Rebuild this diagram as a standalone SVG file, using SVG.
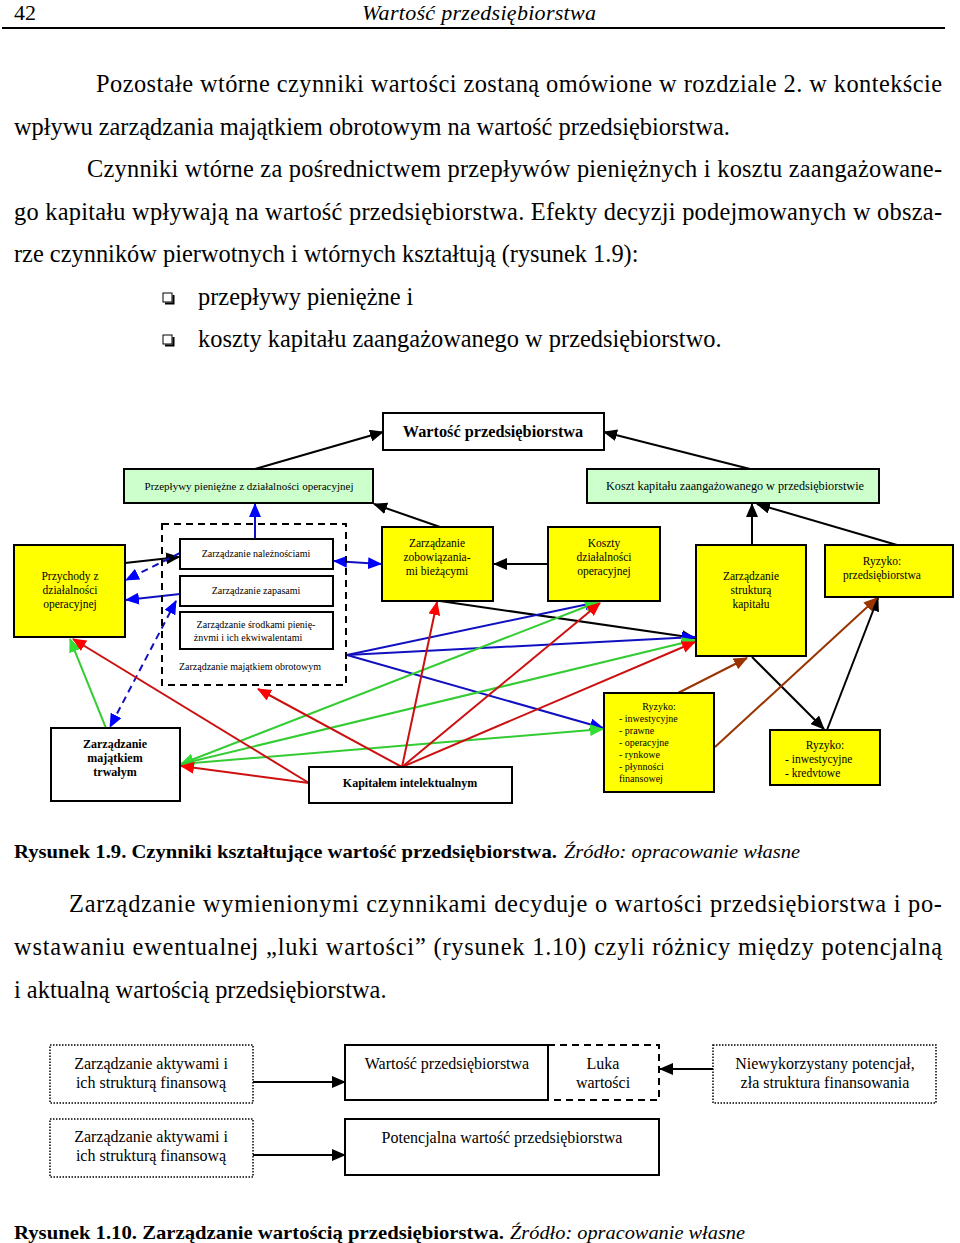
<svg xmlns="http://www.w3.org/2000/svg" width="960" height="1243" viewBox="0 0 960 1243">
<style>
.body{font-family:"Liberation Serif","Times New Roman",serif;font-size:24.4px;fill:#000}
.hdr{font-family:"Liberation Serif","Times New Roman",serif;font-size:22px;fill:#000}
.n{font-family:"Liberation Serif","Times New Roman",serif;font-size:11.5px;fill:#000;text-anchor:middle}
.ns{font-family:"Liberation Serif","Times New Roman",serif;font-size:10px;fill:#000;text-anchor:middle}
.st{text-anchor:start}
.nb{font-family:"Liberation Serif","Times New Roman",serif;font-size:12px;font-weight:bold;fill:#000;text-anchor:middle}
.f10{font-family:"Liberation Serif","Times New Roman",serif;font-size:16px;fill:#000;text-anchor:middle}
.cap{font-family:"Liberation Serif","Times New Roman",serif;font-size:19px;font-weight:bold;fill:#000}
.capi{font-family:"Liberation Serif","Times New Roman",serif;font-size:19px;font-style:italic;fill:#000}
.box{stroke:#000;stroke-width:2;fill:#fff}
.yel{stroke:#000;stroke-width:2;fill:#ffff00}
.grn{stroke:#000;stroke-width:2;fill:#ccffcc}
.dash{stroke:#000;stroke-width:2;fill:none;stroke-dasharray:7,5}
.dot{stroke:#000;stroke-width:1.5;fill:#fff;stroke-dasharray:1.5,1.5}
.k{stroke:#000;stroke-width:2;fill:none}
.b{stroke:#1010c0;stroke-width:2;fill:none}
.bd{stroke:#1010c0;stroke-width:2;fill:none;stroke-dasharray:7,5}
.g{stroke:#33cc33;stroke-width:2;fill:none}
.r{stroke:#cc1010;stroke-width:2;fill:none}
.br{stroke:#993300;stroke-width:2;fill:none}
</style>
<defs>
<marker id="ak" markerUnits="userSpaceOnUse" markerWidth="14" markerHeight="12" refX="13" refY="6" orient="auto-start-reverse"><path d="M0,0 L14,6 L0,12 z" fill="#000"/></marker>
<marker id="ab" markerUnits="userSpaceOnUse" markerWidth="14" markerHeight="12" refX="13" refY="6" orient="auto-start-reverse"><path d="M0,0 L14,6 L0,12 z" fill="#0000ff"/></marker>
<marker id="ag" markerUnits="userSpaceOnUse" markerWidth="14" markerHeight="12" refX="13" refY="6" orient="auto-start-reverse"><path d="M0,0 L14,6 L0,12 z" fill="#33dd33"/></marker>
<marker id="ar" markerUnits="userSpaceOnUse" markerWidth="14" markerHeight="12" refX="13" refY="6" orient="auto-start-reverse"><path d="M0,0 L14,6 L0,12 z" fill="#ff0000"/></marker>
<marker id="abr" markerUnits="userSpaceOnUse" markerWidth="14" markerHeight="12" refX="13" refY="6" orient="auto-start-reverse"><path d="M0,0 L14,6 L0,12 z" fill="#993300"/></marker>
</defs>
<rect width="960" height="1243" fill="#fff"/>

<!-- page header -->
<g id="header">
<text class="hdr" x="14" y="20">42</text>
<text class="hdr" x="362" y="20" font-style="italic" textLength="234">Wartość przedsiębiorstwa</text>
<line x1="2" y1="28" x2="945" y2="28" stroke="#000" stroke-width="2"/>
</g>

<!-- body text -->
<g id="text-top">
<text class="body" x="96" y="92" textLength="846" lengthAdjust="spacing">Pozostałe wtórne czynniki wartości zostaną omówione w rozdziale 2. w kontekście</text>
<text class="body" x="14" y="135">wpływu zarządzania majątkiem obrotowym na wartość przedsiębiorstwa.</text>
<text class="body" x="87" y="177" textLength="855" lengthAdjust="spacing">Czynniki wtórne za pośrednictwem przepływów pieniężnych i kosztu zaangażowane-</text>
<text class="body" x="14" y="220" textLength="928" lengthAdjust="spacing">go kapitału wpływają na wartość przedsiębiorstwa. Efekty decyzji podejmowanych w obsza-</text>
<text class="body" x="14" y="262">rze czynników pierwotnych i wtórnych kształtują (rysunek 1.9):</text>
<rect x="163" y="293" width="9" height="9" fill="#fff" stroke="#000" stroke-width="1"/>
<path d="M165,303.5 H173.5 V295" fill="none" stroke="#000" stroke-width="2"/>
<text class="body" x="198" y="305">przepływy pieniężne i</text>
<rect x="163" y="335" width="9" height="9" fill="#fff" stroke="#000" stroke-width="1"/>
<path d="M165,345.5 H173.5 V337" fill="none" stroke="#000" stroke-width="2"/>
<text class="body" x="198" y="347">koszty kapitału zaangażowanego w przedsiębiorstwo.</text>
</g>

<!-- Figure 1.9 connectors -->
<g id="connectors-1-9">
<line class="k" x1="255" y1="469" x2="383" y2="432" marker-end="url(#ak)"/>
<line class="k" x1="750" y1="469" x2="604" y2="432" marker-end="url(#ak)"/>
<line class="k" x1="440" y1="527" x2="374" y2="504" marker-end="url(#ak)"/>
<line class="k" x1="752" y1="545" x2="752" y2="504" marker-end="url(#ak)"/>
<line class="k" x1="897" y1="545" x2="757" y2="504" marker-end="url(#ak)"/>
<line class="k" x1="548" y1="564" x2="494" y2="564" marker-end="url(#ak)"/>
<line class="k" x1="125" y1="563" x2="179" y2="557" marker-end="url(#ak)"/>
<line class="k" x1="440" y1="601" x2="695" y2="638" marker-end="url(#ak)"/>
<line class="k" x1="752" y1="657" x2="824" y2="729" marker-end="url(#ak)"/>
<line class="k" x1="827" y1="730" x2="878" y2="598" marker-end="url(#ak)"/>

<line class="b" x1="255" y1="539" x2="255" y2="504" marker-end="url(#ab)"/>
<line class="b" x1="334" y1="561" x2="381" y2="564" marker-start="url(#ab)" marker-end="url(#ab)"/>
<line class="b" x1="180" y1="594" x2="126" y2="600" marker-end="url(#ab)"/>
<line class="b" x1="347" y1="655" x2="598" y2="602" marker-end="url(#ab)"/>
<line class="b" x1="347" y1="655" x2="695" y2="637" marker-end="url(#ab)"/>
<line class="b" x1="347" y1="655" x2="603" y2="728" marker-end="url(#ab)"/>
<line class="bd" x1="180" y1="553" x2="126" y2="580" marker-end="url(#ab)"/>
<line class="bd" x1="176" y1="601" x2="110" y2="727" marker-start="url(#ab)" marker-end="url(#ab)"/>

<line class="g" x1="106" y1="728" x2="70" y2="639" marker-end="url(#ag)"/>
<line class="g" x1="181" y1="764" x2="598" y2="602" marker-start="url(#ag)" marker-end="url(#ag)"/>
<line class="g" x1="181" y1="764" x2="695" y2="640" marker-end="url(#ag)"/>
<line class="g" x1="181" y1="764" x2="603" y2="729" marker-end="url(#ag)"/>

<line class="r" x1="309" y1="783" x2="73" y2="639" marker-end="url(#ar)"/>
<line class="r" x1="309" y1="783" x2="181" y2="766" marker-end="url(#ar)"/>
<line class="r" x1="402" y1="767" x2="258" y2="689" marker-end="url(#ar)"/>
<line class="r" x1="402" y1="767" x2="437" y2="602" marker-end="url(#ar)"/>
<line class="r" x1="402" y1="767" x2="600" y2="603" marker-end="url(#ar)"/>
<line class="r" x1="402" y1="767" x2="695" y2="642" marker-end="url(#ar)"/>

<line class="br" x1="678" y1="693" x2="747" y2="658" marker-end="url(#abr)"/>
<line class="br" x1="715" y1="747" x2="877" y2="598" marker-end="url(#abr)"/>
</g>

<!-- Figure 1.9 nodes -->
<g id="n-wartosc">
<rect class="box" x="383" y="413" width="221" height="37"/>
<text x="493" y="437" font-family="Liberation Serif, Times New Roman, serif" font-size="16.3" font-weight="bold" text-anchor="middle">Wartość przedsiębiorstwa</text>
</g>
<g id="n-przeplywy">
<rect class="grn" x="124" y="469" width="249" height="34"/>
<text class="n" x="249" y="490" style="font-size:11px">Przepływy pieniężne z działalności operacyjnej</text>
</g>
<g id="n-koszt-kapitalu">
<rect class="grn" x="587" y="469" width="292" height="34"/>
<text class="n" x="735" y="490" style="font-size:12.2px">Koszt kapitału zaangażowanego w przedsiębiorstwie</text>
</g>
<g id="n-przychody">
<rect class="yel" x="14" y="545" width="111" height="92"/>
<text class="n" x="70" y="580">Przychody z</text>
<text class="n" x="70" y="594">działalności</text>
<text class="n" x="70" y="608">operacyjnej</text>
</g>
<g id="n-majatek-obrotowy">
<rect class="dash" x="162" y="524" width="184" height="161"/>
<text class="ns" x="250" y="670">Zarządzanie majątkiem obrotowym</text>
</g>
<g id="n-naleznosci">
<rect class="box" x="180" y="539" width="153" height="30"/>
<text class="ns" x="256" y="557">Zarządzanie należnościami</text>
</g>
<g id="n-zapasy">
<rect class="box" x="180" y="576" width="153" height="30"/>
<text class="ns" x="256" y="594">Zarządzanie zapasami</text>
</g>
<g id="n-srodki">
<rect class="box" x="180" y="612" width="153" height="37"/>
<text class="ns" x="256" y="628">Zarządzanie środkami pienię-</text>
<text class="ns" x="248" y="641">żnvmi i ich ekwiwalentami</text>
</g>
<g id="n-zobowiazania">
<rect class="yel" x="382" y="527" width="111" height="74"/>
<text class="n" x="437" y="547">Zarządzanie</text>
<text class="n" x="437" y="561">zobowiązania-</text>
<text class="n" x="437" y="575">mi bieżącymi</text>
</g>
<g id="n-koszty">
<rect class="yel" x="548" y="527" width="112" height="74"/>
<text class="n" x="604" y="547">Koszty</text>
<text class="n" x="604" y="561">działalności</text>
<text class="n" x="604" y="575">operacyjnej</text>
</g>
<g id="n-struktura">
<rect class="yel" x="696" y="545" width="110" height="111"/>
<text class="n" x="751" y="580">Zarządzanie</text>
<text class="n" x="751" y="594">strukturą</text>
<text class="n" x="751" y="608">kapitału</text>
</g>
<g id="n-ryzyko-przeds">
<rect class="yel" x="825" y="545" width="128" height="52"/>
<text class="n" x="882" y="565">Ryzyko:</text>
<text class="n" x="882" y="579">przedsiębiorstwa</text>
</g>
<g id="n-majatek-trwaly">
<rect class="box" x="51" y="728" width="129" height="73"/>
<text class="nb" x="115" y="748">Zarządzanie</text>
<text class="nb" x="115" y="762">majątkiem</text>
<text class="nb" x="115" y="776">trwałym</text>
</g>
<g id="n-kapital-intelektualny">
<rect class="box" x="309" y="767" width="203" height="36"/>
<text class="nb" x="410" y="787">Kapitałem intelektualnym</text>
</g>
<g id="n-ryzyko-lista">
<rect class="yel" x="604" y="693" width="110" height="99"/>
<text class="ns" x="659" y="710">Ryzyko:</text>
<text class="ns st" x="619" y="722">- inwestycyjne</text>
<text class="ns st" x="619" y="734">- prawne</text>
<text class="ns st" x="619" y="746">- operacyjne</text>
<text class="ns st" x="619" y="758">- rynkowe</text>
<text class="ns st" x="619" y="770">- płynności</text>
<text class="ns st" x="619" y="782">finansowej</text>
</g>
<g id="n-ryzyko-kredytowe">
<rect class="yel" x="770" y="730" width="110" height="55"/>
<text class="n" x="825" y="749">Ryzyko:</text>
<text class="n st" x="785" y="763">- inwestycyjne</text>
<text class="n st" x="785" y="777">- kredvtowe</text>
</g>

<!-- caption 1.9 -->
<g id="caption-1-9">
<text class="cap" x="14" y="858" textLength="543" lengthAdjust="spacingAndGlyphs">Rysunek 1.9.  Czynniki kształtujące wartość przedsiębiorstwa.</text>
<text class="capi" x="564" y="858" textLength="236" lengthAdjust="spacingAndGlyphs">Źródło: opracowanie własne</text>
</g>

<g id="text-middle">
<text class="body" x="69" y="912" textLength="873" lengthAdjust="spacing">Zarządzanie wymienionymi czynnikami decyduje o wartości przedsiębiorstwa i po-</text>
<text class="body" x="14" y="955" textLength="928" lengthAdjust="spacing">wstawaniu ewentualnej „luki wartości” (rysunek 1.10) czyli różnicy między potencjalną</text>
<text class="body" x="14" y="998">i aktualną wartością przedsiębiorstwa.</text>
</g>

<!-- Figure 1.10 -->
<g id="connectors-1-10">
<line class="k" x1="253" y1="1082" x2="345" y2="1082" marker-end="url(#ak)"/>
<line class="k" x1="253" y1="1155" x2="345" y2="1155" marker-end="url(#ak)"/>
<line class="k" x1="713" y1="1069" x2="660" y2="1069" marker-end="url(#ak)"/>
</g>
<g id="m-aktywa-1">
<rect class="dot" x="50" y="1045" width="203" height="58"/>
<text class="f10" x="151" y="1069">Zarządzanie aktywami i</text>
<text class="f10" x="151" y="1088">ich strukturą finansową</text>
</g>
<g id="m-aktywa-2">
<rect class="dot" x="50" y="1119" width="203" height="58"/>
<text class="f10" x="151" y="1142">Zarządzanie aktywami i</text>
<text class="f10" x="151" y="1161">ich strukturą finansową</text>
</g>
<g id="m-wartosc">
<rect class="box" x="345" y="1045" width="203" height="55"/>
<text class="f10" x="447" y="1069">Wartość przedsiębiorstwa</text>
</g>
<g id="m-luka">
<path d="M548,1045 H659 V1100 H548" class="dash"/>
<text class="f10" x="603" y="1069">Luka</text>
<text class="f10" x="603" y="1088">wartości</text>
</g>
<g id="m-niewykorzystany">
<rect class="dot" x="713" y="1045" width="223" height="58"/>
<text class="f10" x="825" y="1069">Niewykorzystany potencjał,</text>
<text class="f10" x="825" y="1088">zła struktura finansowania</text>
</g>
<g id="m-potencjalna">
<rect class="box" x="345" y="1119" width="314" height="56"/>
<text class="f10" x="502" y="1143">Potencjalna wartość przedsiębiorstwa</text>
</g>

<g id="caption-1-10">
<text class="cap" x="14" y="1239" textLength="490" lengthAdjust="spacingAndGlyphs">Rysunek 1.10.  Zarządzanie wartością przedsiębiorstwa.</text>
<text class="capi" x="510" y="1239" textLength="235" lengthAdjust="spacingAndGlyphs">Źródło: opracowanie własne</text>
</g>
</svg>
